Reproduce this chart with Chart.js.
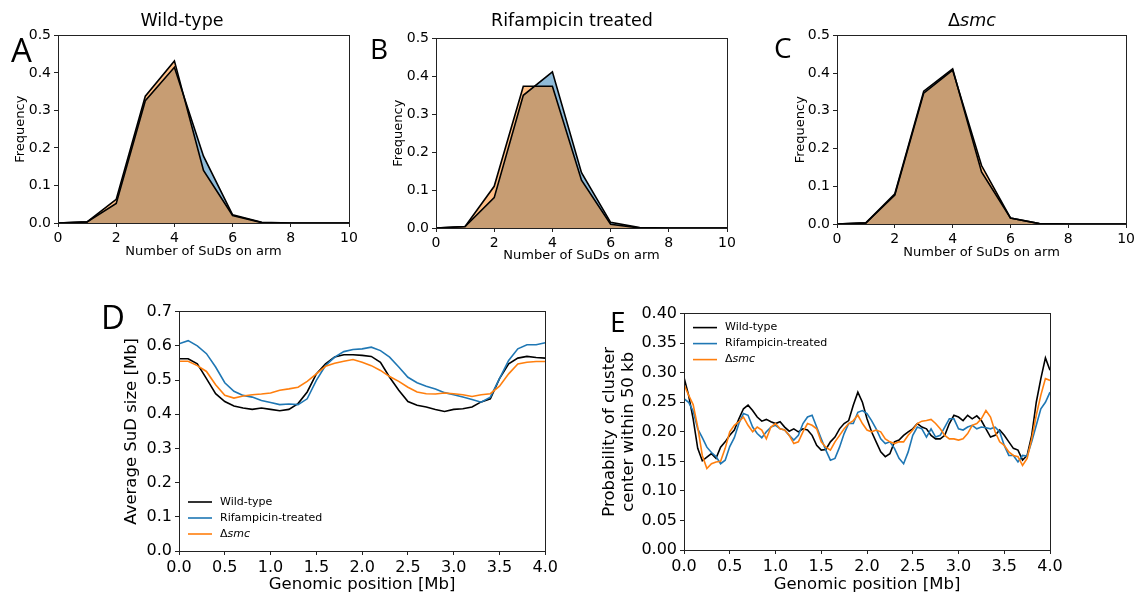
<!DOCTYPE html>
<html><head><meta charset="utf-8">
<script src="https://cdn.jsdelivr.net/npm/chart.js@4.4.0/dist/chart.umd.min.js"></script>
<style>
html,body{margin:0;padding:0;background:#fff;}
body{width:1139px;height:594px;position:relative;overflow:hidden;font-family:"DejaVu Sans";}
canvas{position:absolute;}
.lbl{position:absolute;font-family:"Open Sans";line-height:1;color:#000;white-space:nowrap;}
.ttl{position:absolute;font-family:"DejaVu Sans";font-size:17.5px;line-height:1;width:300px;text-align:center;white-space:nowrap;color:#000;}
</style></head><body>
<script>
// ---------- data ----------
const histX = [0,1,2,3,4,5,6,7,8,9,10];
const wtBlue    = [0,0.003,0.052,0.326,0.415,0.178,0.022,0.002,0,0,0];
const wtOrange  = [0,0.003,0.063,0.338,0.432,0.140,0.020,0.001,0,0,0];
const rifBlue   = [0,0.004,0.080,0.350,0.412,0.146,0.015,0.001,0,0,0];
const rifOrange = [0,0.004,0.110,0.374,0.374,0.126,0.010,0,0,0,0];
const smcBlue   = [0,0.003,0.080,0.352,0.411,0.138,0.016,0.001,0,0,0];
const smcOrange = [0,0.003,0.077,0.347,0.408,0.155,0.016,0.001,0,0,0];

const seriesNames = ['Wild-type','Rifampicin-treated','Δsmc'];

const posD = [0,0.1,0.2,0.3,0.4,0.5,0.6,0.7,0.8,0.9,1.0,1.1,1.2,1.3,1.4,1.5,1.6,1.7,1.8,1.9,2.0,
  2.1,2.2,2.3,2.4,2.5,2.6,2.7,2.8,2.9,3.0,3.1,3.2,3.3,3.4,3.5,3.6,3.7,3.8,3.9,4.0];
const sizeWT  = [0.562,0.562,0.547,0.504,0.460,0.437,0.424,0.418,0.414,0.418,0.414,0.410,0.414,0.431,0.465,0.518,0.547,0.567,0.574,0.574,0.572,
  0.569,0.552,0.508,0.470,0.437,0.426,0.421,0.414,0.408,0.414,0.416,0.421,0.436,0.445,0.504,0.547,0.564,0.569,0.566,0.564];
const sizeRif = [0.606,0.615,0.600,0.577,0.538,0.492,0.467,0.455,0.450,0.440,0.434,0.428,0.430,0.428,0.445,0.499,0.542,0.567,0.583,0.589,0.591,
  0.596,0.586,0.567,0.538,0.508,0.492,0.482,0.474,0.463,0.457,0.450,0.443,0.435,0.450,0.504,0.557,0.591,0.603,0.603,0.609];
const sizeSmc = [0.555,0.555,0.542,0.525,0.486,0.455,0.447,0.453,0.457,0.459,0.462,0.470,0.474,0.479,0.496,0.518,0.540,0.549,0.555,0.560,0.552,
  0.542,0.528,0.510,0.496,0.479,0.465,0.460,0.459,0.462,0.460,0.457,0.452,0.457,0.460,0.482,0.518,0.547,0.552,0.554,0.554];

const posE = [0,0.05,0.1,0.15,0.2,0.25,0.3,0.35,0.4,0.45,0.5,0.55,0.6,0.65,0.7,0.75,0.8,0.85,0.9,0.95,
  1.0,1.05,1.1,1.15,1.2,1.25,1.3,1.35,1.4,1.45,1.5,1.55,1.6,1.65,1.7,1.75,1.8,1.85,1.9,1.95,
  2.0,2.05,2.1,2.15,2.2,2.25,2.3,2.35,2.4,2.45,2.5,2.55,2.6,2.65,2.7,2.75,2.8,2.85,2.9,2.95,
  3.0,3.05,3.1,3.15,3.2,3.25,3.3,3.35,3.4,3.45,3.5,3.55,3.6,3.65,3.7,3.75,3.8,3.85,3.9,3.95,4.0];
const probWT = [0.292,0.262,0.222,0.172,0.151,0.157,0.163,0.155,0.174,0.183,0.194,0.203,0.222,0.239,0.245,0.236,0.225,0.218,0.221,0.217,
  0.214,0.217,0.208,0.201,0.205,0.200,0.205,0.203,0.194,0.177,0.169,0.170,0.183,0.191,0.205,0.214,0.219,0.245,0.267,0.250,
  0.222,0.200,0.183,0.166,0.158,0.163,0.183,0.186,0.194,0.200,0.205,0.214,0.208,0.205,0.194,0.188,0.188,0.194,0.214,0.228,
  0.225,0.219,0.228,0.222,0.227,0.219,0.205,0.191,0.194,0.203,0.194,0.183,0.172,0.169,0.152,0.160,0.194,0.250,0.290,0.325,0.304];
const probRif = [0.256,0.250,0.235,0.205,0.190,0.174,0.165,0.158,0.146,0.152,0.175,0.190,0.214,0.231,0.228,0.208,0.197,0.190,0.200,0.208,
  0.211,0.205,0.203,0.194,0.186,0.194,0.214,0.225,0.228,0.208,0.188,0.169,0.152,0.155,0.174,0.197,0.214,0.214,0.233,0.236,
  0.231,0.219,0.205,0.188,0.180,0.183,0.172,0.155,0.146,0.166,0.194,0.208,0.205,0.191,0.205,0.191,0.194,0.208,0.222,0.222,
  0.205,0.203,0.208,0.211,0.205,0.208,0.207,0.205,0.208,0.200,0.177,0.160,0.160,0.149,0.160,0.159,0.183,0.211,0.239,0.250,0.267];
const probSmc = [0.280,0.262,0.246,0.208,0.160,0.138,0.146,0.149,0.150,0.172,0.200,0.211,0.217,0.225,0.211,0.200,0.208,0.203,0.188,0.208,
  0.214,0.205,0.203,0.194,0.180,0.183,0.200,0.214,0.211,0.205,0.183,0.174,0.169,0.183,0.194,0.205,0.214,0.219,0.228,0.214,
  0.203,0.200,0.203,0.200,0.188,0.183,0.180,0.183,0.183,0.194,0.203,0.214,0.218,0.219,0.221,0.214,0.205,0.194,0.188,0.188,
  0.186,0.188,0.197,0.211,0.214,0.222,0.236,0.225,0.200,0.183,0.177,0.166,0.160,0.158,0.143,0.155,0.188,0.228,0.262,0.290,0.287];

// ---------- styling ----------
const BLUE = '#1f77b4', ORANGE = '#ff7f0e', BLACK = '#000000';
Chart.defaults.font.family = 'DejaVu Sans';
Chart.defaults.color = '#000';

const framePlugin = {
  id: 'frame',
  afterDatasetsDraw(chart) {
    const {ctx, chartArea: a} = chart;
    const x0 = Math.floor(a.left) + 0.5, y0 = Math.floor(a.top) + 0.5;
    const x1 = Math.floor(a.right) + 0.5, y1 = Math.floor(a.bottom) + 0.5;
    ctx.save();
    ctx.strokeStyle = '#222'; ctx.lineWidth = 1;
    ctx.strokeRect(x0, y0, x1 - x0, y1 - y0);
    ctx.restore();
  }
};

const legendPlugin = {
  id: 'mplLegend',
  afterDatasetsDraw(chart, args, o) {
    if (!o || !o.show) return;
    const {ctx, chartArea: a} = chart;
    const ds = chart.data.datasets;
    const n = ds.length;
    ctx.save();
    ds.forEach((d, i) => {
      const y = o.anchor === 'tl' ? a.top + o.first + i * o.step : a.bottom - o.first - (n - 1 - i) * o.step;
      const x = a.left + o.dx;
      ctx.strokeStyle = d.borderColor; ctx.lineWidth = 1.6;
      ctx.beginPath(); ctx.moveTo(x, y); ctx.lineTo(x + 24, y); ctx.stroke();
      ctx.fillStyle = '#000'; ctx.textBaseline = 'middle'; ctx.textAlign = 'left';
      const label = d.label;
      let tx = x + 32;
      if (label.startsWith('Δ')) {
        ctx.font = '11px "DejaVu Sans"';
        ctx.fillText('Δ', tx, y);
        tx += ctx.measureText('Δ').width;
        ctx.font = 'italic 11px "DejaVu Sans"';
        ctx.fillText(label.slice(1), tx, y);
      } else {
        ctx.font = '11px "DejaVu Sans"';
        ctx.fillText(label, tx, y);
      }
    });
    ctx.restore();
  }
};

function makeChart(box, yW, xH, padT, padR, datasets, xOpt, yOpt, legendOpt) {
  const c = document.createElement('canvas');
  const W = box.r - box.l + yW + padR, H = box.b - box.t + padT + xH;
  c.width = W; c.height = H;
  c.style.left = (box.l - yW) + 'px'; c.style.top = (box.t - padT) + 'px';
  c.style.width = W + 'px'; c.style.height = H + 'px';
  document.body.appendChild(c);
  const tickFont = {size: xOpt.tickSize};
  const gridCommon = {drawOnChartArea: false, drawTicks: true, tickLength: 4, tickColor: '#222', color: '#222'};
  new Chart(c, {
    type: 'line',
    data: {datasets},
    options: {
      responsive: false, animation: false, devicePixelRatio: 1,
      layout: {padding: {left: 0, top: padT, right: padR, bottom: 0}},
      plugins: {legend: {display: false}, tooltip: {enabled: false}, title: {display: false},
        filler: {drawTime: 'beforeDatasetsDraw'}, mplLegend: legendOpt || {show: false}},
      elements: {point: {radius: 0}, line: {tension: 0}},
      scales: {
        x: {type: 'linear', min: xOpt.min, max: xOpt.max,
          grid: gridCommon, border: {display: false},
          ticks: {stepSize: xOpt.step, autoSkip: false, maxRotation: 0, padding: 3, font: tickFont, color: '#000',
            callback: v => v.toFixed(xOpt.dec)},
          title: {display: true, text: xOpt.title, font: {size: xOpt.titleSize}, padding: 0, color: '#000'},
          afterFit: s => { s.height = xH; }},
        y: {type: 'linear', min: yOpt.min, max: yOpt.max,
          grid: gridCommon, border: {display: false},
          ticks: {stepSize: yOpt.step, autoSkip: false, padding: 3, font: tickFont, color: '#000',
            callback: v => v.toFixed(yOpt.dec)},
          title: {display: true, text: yOpt.title, font: {size: yOpt.titleSize, lineHeight: yOpt.lh || 1.2}, padding: 0, color: '#000'},
          afterFit: s => { s.width = yW; }}
      }
    },
    plugins: [framePlugin, legendPlugin]
  });
}

function pts(xs, ys) { return xs.map((x, i) => ({x, y: ys[i]})); }

function histSets(blue, orange) {
  return [
    {label: 'a', data: pts(histX, orange), borderColor: BLACK, borderWidth: 1.6, fill: 'origin',
      backgroundColor: 'rgba(255,127,14,0.5)', order: 1},
    {label: 'b', data: pts(histX, blue), borderColor: BLACK, borderWidth: 1.6, fill: 'origin',
      backgroundColor: 'rgba(31,119,180,0.5)', order: 2}
  ];
}

const histX_opt = {min: 0, max: 10, step: 2, dec: 0, title: 'Number of SuDs on arm', titleSize: 13, tickSize: 14};
const histY_opt = {min: 0, max: 0.5, step: 0.1, dec: 1, title: 'Frequency', titleSize: 13};

makeChart({l: 58, t: 34, r: 349, b: 223}, 45, 36, 10, 14, histSets(wtBlue, wtOrange), histX_opt, histY_opt);
makeChart({l: 436, t: 37, r: 727, b: 228}, 45, 35, 10, 12, histSets(rifBlue, rifOrange), histX_opt, histY_opt);
makeChart({l: 837, t: 34, r: 1128, b: 224}, 44, 36, 10, 10, histSets(smcBlue, smcOrange), histX_opt, histY_opt);

function lineSets(xs, a, b, c) {
  return [
    {label: seriesNames[0], data: pts(xs, a), borderColor: BLACK, borderWidth: 1.6, fill: false, order: 3},
    {label: seriesNames[1], data: pts(xs, b), borderColor: BLUE, borderWidth: 1.6, fill: false, order: 2},
    {label: seriesNames[2], data: pts(xs, c), borderColor: ORANGE, borderWidth: 1.6, fill: false, order: 1}
  ];
}

makeChart({l: 179, t: 311, r: 547, b: 551}, 57, 44, 12, 14,
  lineSets(posD, sizeWT, sizeRif, sizeSmc),
  {min: 0, max: 4, step: 0.5, dec: 1, title: 'Genomic position [Mb]', titleSize: 16.5, tickSize: 16},
  {min: 0, max: 0.7, step: 0.1, dec: 1, title: 'Average SuD size [Mb]', titleSize: 16.5},
  {show: true, anchor: 'bl', dx: 9, first: 17, step: 16});

makeChart({l: 684, t: 313, r: 1050, b: 550}, 84, 45, 12, 16,
  lineSets(posE, probWT, probRif, probSmc),
  {min: 0, max: 4, step: 0.5, dec: 1, title: 'Genomic position [Mb]', titleSize: 16.5, tickSize: 16},
  {min: 0, max: 0.4, step: 0.05, dec: 2, title: ['Probability of cluster', 'center within 50 kb'], titleSize: 16.5, lh: 1.15},
  {show: true, anchor: 'tl', dx: 9, first: 14, step: 16});

// ---------- panel titles and letters ----------
function addDiv(cls, html, css) {
  const d = document.createElement('div');
  d.className = cls; d.innerHTML = html;
  Object.assign(d.style, css);
  document.body.appendChild(d);
}
addDiv('ttl', 'Wild-type', {left: (182 - 150) + 'px', top: '12px'});
addDiv('ttl', 'Rifampicin treated', {left: (572 - 150) + 'px', top: '12px'});
addDiv('ttl', 'Δ<i>smc</i>', {left: (972 - 150) + 'px', top: '12px'});

addDiv('lbl', 'A', {left: '11px', top: '33px', fontSize: '33px'});
addDiv('lbl', 'B', {left: '370px', top: '34px', fontSize: '28px'});
addDiv('lbl', 'C', {left: '774px', top: '33px', fontSize: '28px'});
addDiv('lbl', 'D', {left: '101px', top: '300px', fontSize: '33px'});
addDiv('lbl', 'E', {left: '610px', top: '307px', fontSize: '28px'});
</script>
</body></html>
